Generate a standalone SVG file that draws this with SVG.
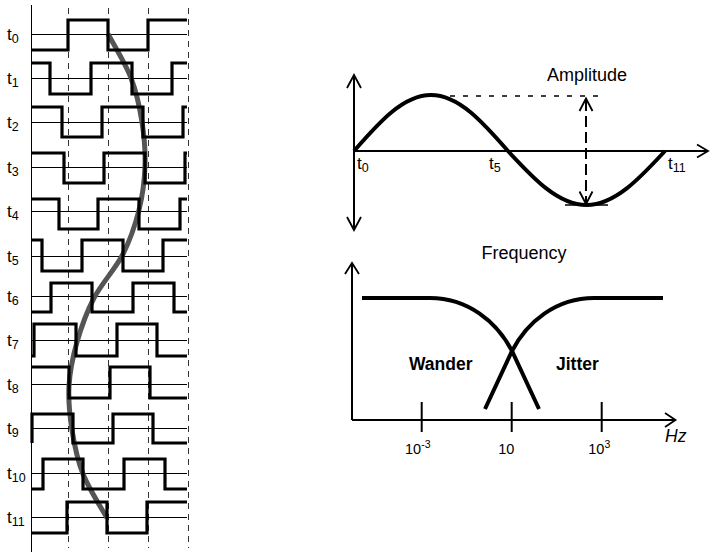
<svg xmlns="http://www.w3.org/2000/svg" width="711" height="552" viewBox="0 0 711 552">
<style>
text{font-family:"Liberation Sans",Arial,sans-serif;fill:#000}
.lbl{font-size:17px}
.sub{font-size:12.5px}
.wave{fill:none;stroke:#000;stroke-width:3.2;stroke-linejoin:miter}
.base{stroke:#000;stroke-width:1}
.vdash{stroke:#333;stroke-width:1;stroke-dasharray:6 5}
.axis{stroke:#000;stroke-width:2;fill:none}
.arr{stroke:#000;stroke-width:1.8;fill:none}
.curve{fill:none;stroke:#000;stroke-width:4}
</style>
<rect width="711" height="552" fill="#fff"/>

<g id="timing-grid">
<line x1="31.5" y1="5" x2="31.5" y2="552" stroke="#000" stroke-width="1"/>
<line class="vdash" x1="68.5" y1="8" x2="68.5" y2="548"/>
<line class="vdash" x1="108.5" y1="8" x2="108.5" y2="548"/>
<line class="vdash" x1="148.5" y1="8" x2="148.5" y2="548"/>
<line class="vdash" x1="188.5" y1="8" x2="188.5" y2="548"/>
<line class="base" x1="31" y1="34.5" x2="187" y2="34.5"/>
<line class="base" x1="31" y1="78.5" x2="187" y2="78.5"/>
<line class="base" x1="31" y1="122.5" x2="187" y2="122.5"/>
<line class="base" x1="31" y1="167.5" x2="187" y2="167.5"/>
<line class="base" x1="31" y1="211.5" x2="187" y2="211.5"/>
<line class="base" x1="31" y1="256.5" x2="187" y2="256.5"/>
<line class="base" x1="31" y1="296.5" x2="187" y2="296.5"/>
<line class="base" x1="31" y1="340.5" x2="187" y2="340.5"/>
<line class="base" x1="31" y1="384.5" x2="187" y2="384.5"/>
<line class="base" x1="31" y1="428.5" x2="187" y2="428.5"/>
<line class="base" x1="31" y1="473.5" x2="187" y2="473.5"/>
<line class="base" x1="31" y1="517.5" x2="187" y2="517.5"/>
</g>

<g id="phase-curve">
<path d="M108,34 C111.8,41.3 125.3,63.3 131,78 C136.7,92.7 139.7,107.3 142,122 C144.3,136.7 145.5,151.3 145,166 C144.5,180.7 142.7,195.3 139,210 C135.3,224.7 130.5,239.3 123,254 C115.5,268.7 101.7,283.3 94,298 C86.3,312.7 81.2,327.3 77,342 C72.8,356.7 69.8,371.3 69,386 C68.2,400.7 69.7,415.3 72,430 C74.3,444.7 77.2,459.3 83,474 C88.8,488.7 103,510.7 107,518" fill="none" stroke="#555" stroke-width="5"/>
</g>

<g id="waves">
<path id="w0" class="wave" d="M31,50 H68 V20 H108 V50 H148 V20 H187"/>
<path id="w1" class="wave" d="M31,63 H50 V94 H91 V63 H132 V94 H172 V63 H187"/>
<path id="w2" class="wave" d="M31,107 H62 V137 H102 V107 H143 V137 H183 V107 H187"/>
<path id="w3" class="wave" d="M31,153 H64 V183 H104 V153 H145 V183 H185 V153 H187"/>
<path id="w4" class="wave" d="M31,199 H59 V229 H98 V199 H139 V229 H180 V199 H187"/>
<path id="w5" class="wave" d="M31,240 H42 V271 H82 V240 H123 V271 H163 V240 H187"/>
<path id="w6" class="wave" d="M31,312 H51 V283 H92 V312 H133 V283 H174 V312 H187"/>
<path id="w7" class="wave" d="M31,356 H34 V324 H76 V356 H117 V324 H157 V356 H187"/>
<path id="w8" class="wave" d="M31,367 H69 V398 H110 V367 H150 V398 H187"/>
<path id="w9" class="wave" d="M32,443 V414 H73 V443 H113 V414 H153 V443 H187"/>
<path id="w10" class="wave" d="M31,489 H43 V459 H83 V489 H124 V459 H165 V489 H187"/>
<path id="w11" class="wave" d="M31,533 H67 V502 H107 V533 H147 V502 H187"/>
</g>

<g id="time-labels">
<text class="lbl" x="7" y="39.5">t<tspan class="sub" dy="3">0</tspan></text>
<text class="lbl" x="7" y="83.5">t<tspan class="sub" dy="3">1</tspan></text>
<text class="lbl" x="7" y="127.5">t<tspan class="sub" dy="3">2</tspan></text>
<text class="lbl" x="7" y="172.5">t<tspan class="sub" dy="3">3</tspan></text>
<text class="lbl" x="7" y="216.5">t<tspan class="sub" dy="3">4</tspan></text>
<text class="lbl" x="7" y="261.5">t<tspan class="sub" dy="3">5</tspan></text>
<text class="lbl" x="7" y="301.5">t<tspan class="sub" dy="3">6</tspan></text>
<text class="lbl" x="7" y="345.5">t<tspan class="sub" dy="3">7</tspan></text>
<text class="lbl" x="7" y="389.5">t<tspan class="sub" dy="3">8</tspan></text>
<text class="lbl" x="7" y="433.5">t<tspan class="sub" dy="3">9</tspan></text>
<text class="lbl" x="7" y="478.5">t<tspan class="sub" dy="3">10</tspan></text>
<text class="lbl" x="7" y="522.5">t<tspan class="sub" dy="3">11</tspan></text>
</g>

<g id="amplitude-plot">
<line class="axis" x1="354" y1="76" x2="354" y2="229"/>
<polyline class="arr" points="347,88 354,75 361,88"/>
<polyline class="arr" points="347,217 354,230 361,217"/>
<line class="axis" x1="354" y1="151" x2="707" y2="151"/>
<polyline class="arr" points="697,144.5 708,151 697,157.5"/>
<line x1="450" y1="96" x2="605" y2="96" stroke="#000" stroke-width="1.5" stroke-dasharray="5 8"/>
<line x1="565" y1="205" x2="608" y2="205" stroke="#000" stroke-width="1.5"/>
<path class="curve" d="M354,151 C379.1,122.3 403.2,95 431,95 C458.8,95 482.9,122.3 508,151 C533.6,178.7 558.2,205 586.5,205 C614.8,205 639.4,178.7 665,151"/>
<line x1="586" y1="100" x2="586" y2="203" stroke="#000" stroke-width="2" stroke-dasharray="11 5"/>
<polyline class="arr" points="579.5,111 586,98.5 592.5,111"/>
<polyline class="arr" points="579.5,191.5 586,204 592.5,191.5"/>
<text x="547" y="80.5" font-size="18">Amplitude</text>
<text class="lbl" x="357" y="168.5">t<tspan class="sub" dy="3">0</tspan></text>
<text class="lbl" x="489" y="168.5">t<tspan class="sub" dy="3">5</tspan></text>
<text class="lbl" x="668" y="168.5">t<tspan class="sub" dy="3">11</tspan></text>
</g>

<g id="frequency-plot">
<line class="axis" x1="352" y1="265" x2="352" y2="420"/>
<polyline class="arr" points="345,274 352,263 359,274"/>
<line class="axis" x1="352" y1="420" x2="674" y2="420"/>
<polyline class="arr" points="665,413 675.5,420 665,427"/>
<line x1="421.7" y1="402" x2="421.7" y2="432" stroke="#000" stroke-width="2"/>
<line x1="511.7" y1="402" x2="511.7" y2="432" stroke="#000" stroke-width="2"/>
<line x1="601.7" y1="402" x2="601.7" y2="432" stroke="#000" stroke-width="2"/>
<path id="wander-curve" class="curve" d="M362,298 L430,298 C468,298 497,322 512,351 L539,409"/>
<path id="jitter-curve" class="curve" d="M485,409 L512,351 C527,322 556,298 594,298 L663,298"/>
<text x="481.5" y="258.5" font-size="18">Frequency</text>
<text x="409" y="370" font-size="17.5" font-weight="bold">Wander</text>
<text x="556" y="370" font-size="17.5" font-weight="bold">Jitter</text>
<text x="405" y="453.5" font-size="14.5">10<tspan font-size="10.5" dy="-5.5">-3</tspan></text>
<text x="498.3" y="453.5" font-size="14.5">10</text>
<text x="588.3" y="453.5" font-size="14.5">10<tspan font-size="10.5" dy="-5.5">3</tspan></text>
<text x="665" y="442" font-size="17.5" font-style="italic">Hz</text>
</g>
</svg>
